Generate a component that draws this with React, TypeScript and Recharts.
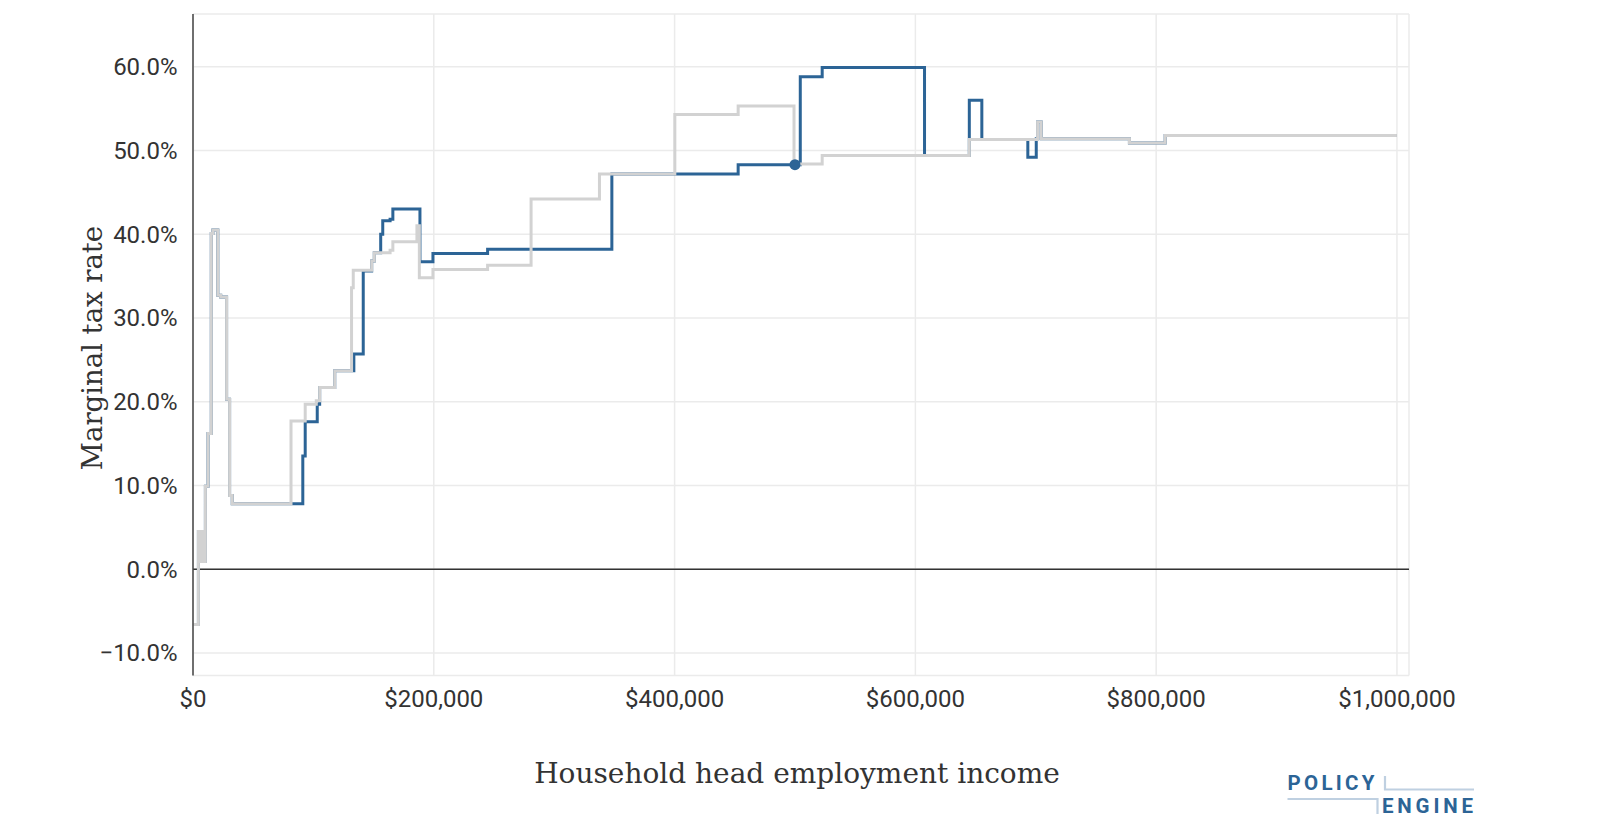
import React from "react";
import {
  CartesianGrid,
  ComposedChart,
  Line,
  ReferenceLine,
  Scatter,
  XAxis,
  YAxis,
} from "recharts";

// baseline marginal tax rate (grey), step points: income -> rate (%)
const baselineIncome = [
  0, 4500, 5500, 6500, 7500, 8500, 9500, 10300, 12500, 15200, 16500, 20600, 23000, 27900, 30400,
  32600, 81400, 93200, 102400, 105200, 117700, 131700, 133100, 148400, 150600, 163700, 166000,
  186000, 188000, 199300, 244700, 280800, 337600, 400200, 452800, 499200, 522600, 644800, 701500,
  704500, 777800, 807500, 1000000,
];
const baselineRate = [
  -6.6, 4.5, 0.9, 4.5, 0.9, 4.5, 0.9, 9.9, 16.2, 40.1, 40.5, 32.7, 32.5, 20.3, 8.8, 7.8, 17.7, 19.7,
  20.1, 21.7, 23.7, 33.6, 35.7, 36.8, 37.8, 38.1, 39.1, 41.0, 34.8, 35.8, 36.3, 44.2, 47.2, 54.3,
  55.3, 48.4, 49.4, 51.3, 53.4, 51.4, 50.9, 51.8, 51.8,
];

// reform marginal tax rate (blue)
const reformIncome = [
  0, 4500, 5500, 6500, 7500, 8500, 9500, 10300, 12500, 15200, 16500, 20600, 23000, 27900, 30400,
  32600, 91200, 93200, 103200, 105200, 117700, 133600, 141400, 148400, 150600, 155900, 157600,
  163700, 166000, 188500, 199300, 244700, 347900, 452800, 504400, 522600, 607600, 644800, 655200,
  693400, 700400, 701500, 704500, 777800, 807500, 1000000,
];
const reformRate = [
  -6.6, 4.5, 0.9, 4.5, 0.9, 4.5, 0.9, 9.9, 16.2, 40.1, 40.5, 32.7, 32.5, 20.3, 8.8, 7.8, 13.5, 17.6,
  19.7, 21.7, 23.7, 25.7, 35.6, 36.8, 37.8, 40.0, 41.6, 41.8, 43.0, 36.7, 37.7, 38.2, 47.2, 48.3,
  58.8, 59.9, 49.4, 56.0, 51.3, 49.2, 51.4, 53.4, 51.4, 50.9, 51.8, 51.8,
];

// the household's current position
const markerIncome = [500000];
const markerRate = [48.3];

const xTicks = [0, 200000, 400000, 600000, 800000, 1000000];
const yTicks = [-10, 0, 10, 20, 30, 40, 50, 60];

const BLUE = "#2C6496";
const GREY = "#D2D2D2";
const TEXT = "#333";

const toPoints = (xs: number[], ys: number[]) => xs.map((x, i) => ({ x, rate: ys[i] }));

const baseline = toPoints(baselineIncome, baselineRate);
const reform = toPoints(reformIncome, reformRate);
const marker = toPoints(markerIncome, markerRate);

const fmtMoney = (v: number) => "$" + v.toLocaleString("en-US");
const fmtPct = (v: number) => (v < 0 ? "\u2212" : "") + Math.abs(v).toFixed(1) + "%";

function XTick({ x, payload }: any) {
  return (
    <text x={x} y={707} textAnchor="middle" fill={TEXT} fontFamily="Roboto" fontSize={24}>
      {fmtMoney(payload.value)}
    </text>
  );
}

function YTick({ y, payload }: any) {
  return (
    <text x={177.5} y={y + 8.5} textAnchor="end" fill={TEXT} fontFamily="Roboto" fontSize={24}>
      {fmtPct(payload.value)}
    </text>
  );
}

function Logo() {
  return (
    <svg
      width={220}
      height={60}
      style={{ position: "absolute", left: 1270, top: 765 }}
      viewBox="1270 765 220 60"
    >
      <polyline points="1287.5,799 1377.5,799 1377.5,814" fill="none" stroke="#BFD0E1" strokeWidth={2.2} />
      <polyline points="1385,776 1385,789.5 1474,789.5" fill="none" stroke="#BFD0E1" strokeWidth={2.2} />
      <text
        x={1287.5}
        y={790}
        fill={BLUE}
        fontFamily="Roboto"
        fontWeight={700}
        fontSize={20.5}
        textLength={87}
        lengthAdjust="spacing"
      >
        POLICY
      </text>
      <text
        x={1382}
        y={812.5}
        fill={BLUE}
        fontFamily="Roboto"
        fontWeight={700}
        fontSize={20.5}
        textLength={91}
        lengthAdjust="spacing"
      >
        ENGINE
      </text>
    </svg>
  );
}

export default function App() {
  return (
    <div style={{ position: "absolute", left: 0, top: 0, width: 1600, height: 839, background: "#fff" }}>
      <ComposedChart width={1600} height={839} margin={{ top: 14, right: 191, bottom: 0, left: 0 }}>
        <CartesianGrid stroke="#EBEBEB" strokeWidth={1.5} horizontal vertical />
        <XAxis
          type="number"
          dataKey="x"
          domain={[0, 1010000]}
          ticks={xTicks}
          axisLine={false}
          tickLine={false}
          height={163.5}
          tick={<XTick />}
          label={{
            content: () => (
              <text x={797} y={783} textAnchor="middle" fill={TEXT} fontFamily="DejaVu Serif" fontSize={28}>
                Household head employment income
              </text>
            ),
          }}
        />
        <YAxis
          type="number"
          dataKey="rate"
          domain={[-12.7, 66.3]}
          ticks={yTicks}
          width={193}
          axisLine={{ stroke: "#444", strokeWidth: 1.5 }}
          tickLine={false}
          tick={<YTick />}
          label={{
            content: () => (
              <text
                x={102}
                y={348}
                textAnchor="middle"
                fill={TEXT}
                fontFamily="DejaVu Serif"
                fontSize={27.5}
                transform="rotate(-90 102 348)"
              >
                Marginal tax rate
              </text>
            ),
          }}
        />
        <ReferenceLine y={0} stroke="#333" strokeWidth={1.5} />
        <Line
          data={reform}
          dataKey="rate"
          type="stepAfter"
          stroke={BLUE}
          strokeWidth={3}
          dot={false}
          activeDot={false}
          isAnimationActive={false}
        />
        <Line
          data={baseline}
          dataKey="rate"
          type="stepAfter"
          stroke={GREY}
          strokeWidth={3}
          dot={false}
          activeDot={false}
          isAnimationActive={false}
        />
        <Scatter
          data={marker}
          dataKey="rate"
          fill={BLUE}
          isAnimationActive={false}
          shape={(p: any) => <circle cx={p.cx} cy={p.cy} r={5.5} fill={BLUE} />}
        />
      </ComposedChart>
      <Logo />
    </div>
  );
}
